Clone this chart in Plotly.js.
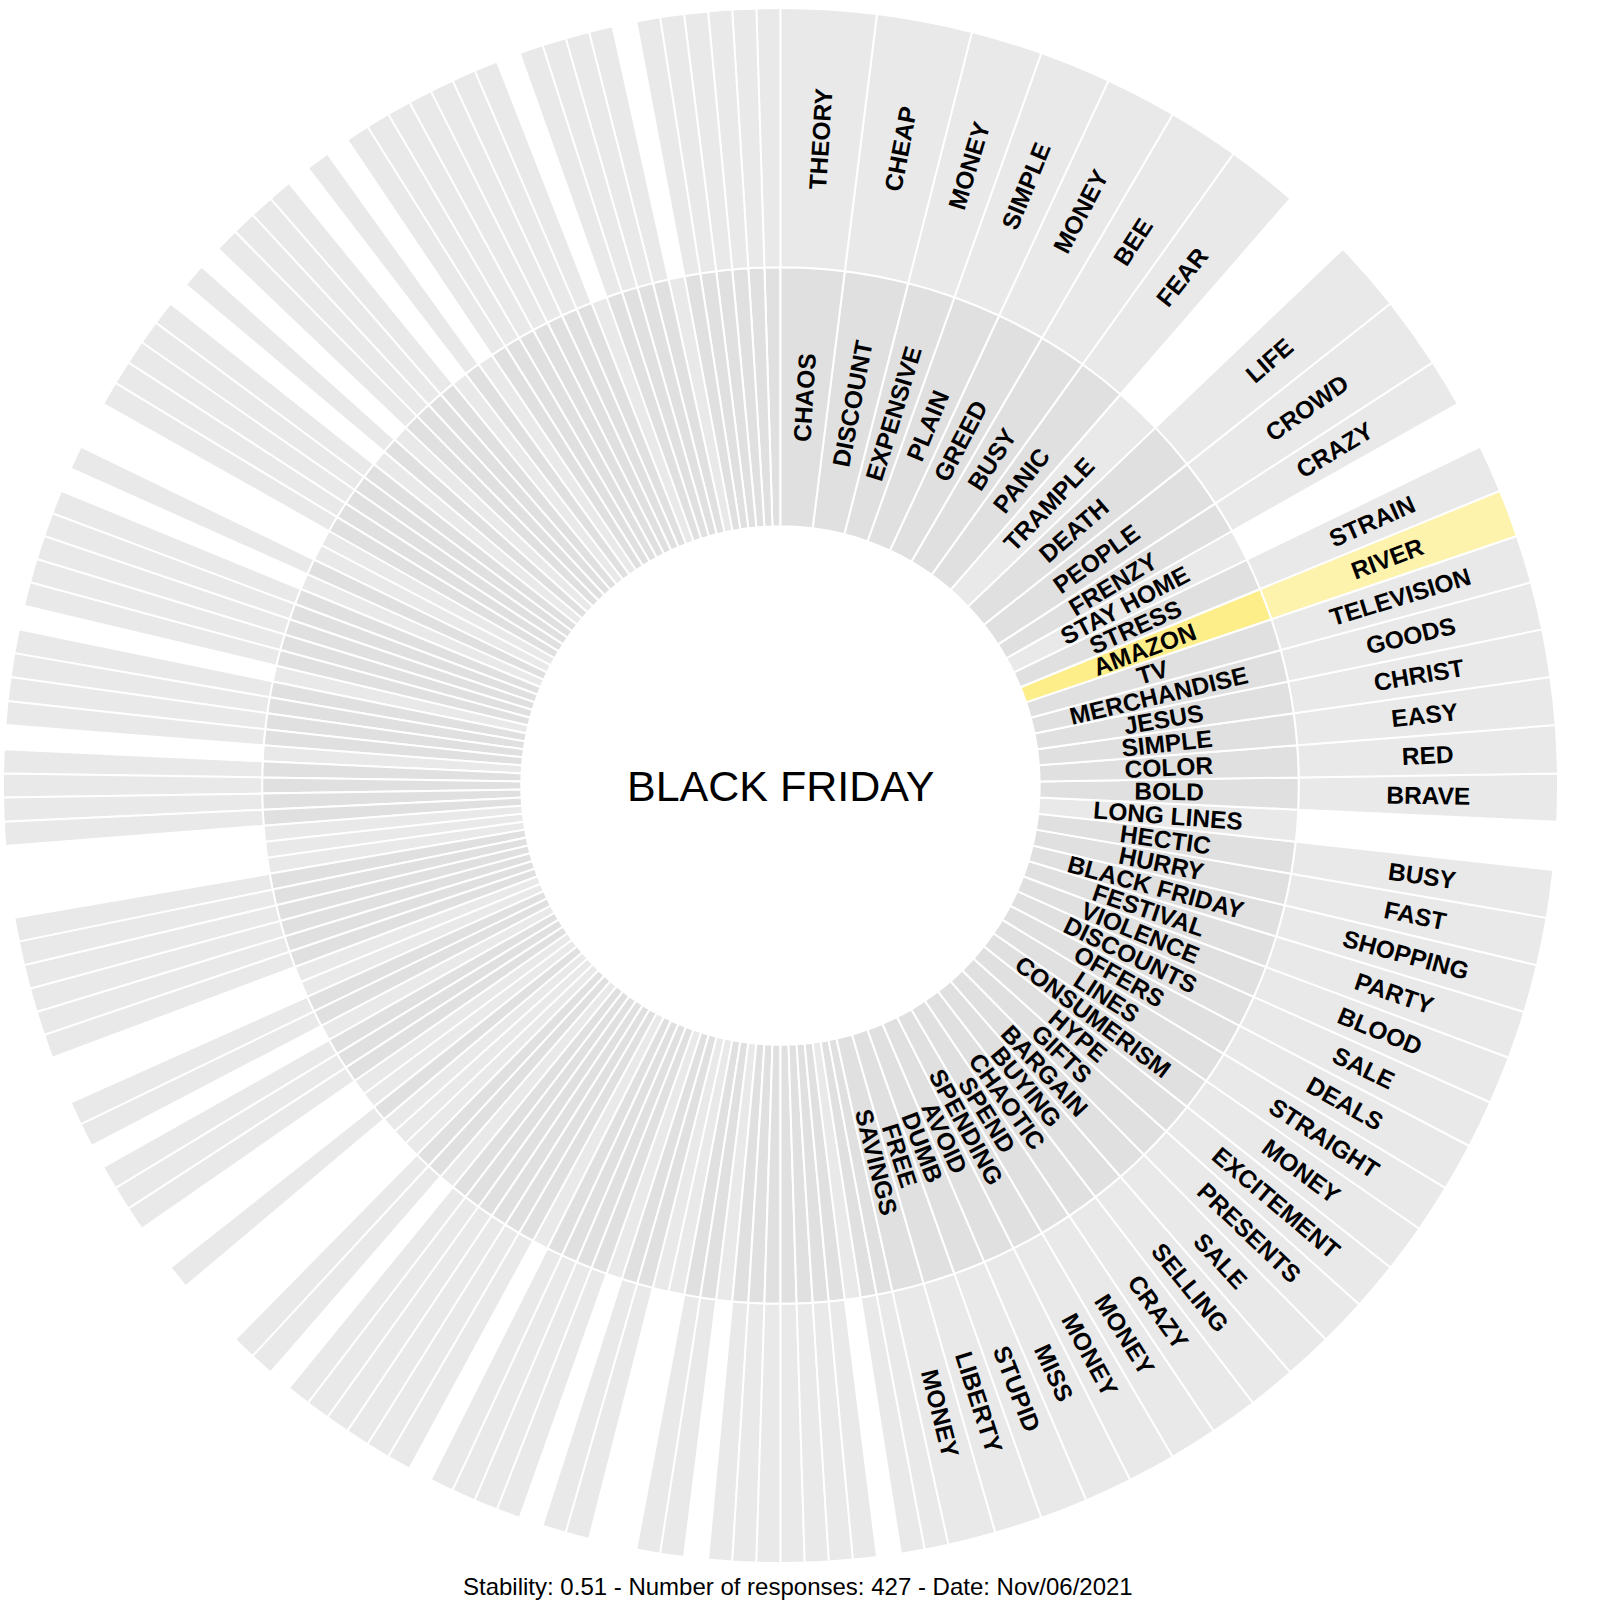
<!DOCTYPE html>
<html>
<head>
<meta charset="utf-8">
<script src="https://cdn.plot.ly/plotly-3.0.1.min.js"></script>
<style>body{margin:0;background:#fff}</style>
</head>
<body>
<div id="chart" style="width:1600px;height:1600px"></div>
<script>
// cue word in the centre
const cue = 'BLACK FRIDAY';

// first responses that are big enough to carry a label (clockwise from 12 o'clock)
const firstWords = ['CHAOS', 'DISCOUNT', 'EXPENSIVE', 'PLAIN', 'GREED', 'BUSY', 'PANIC', 'TRAMPLE', 'DEATH', 'PEOPLE',
  'FRENZY', 'STAY HOME', 'STRESS', 'AMAZON', 'TV', 'MERCHANDISE', 'JESUS', 'SIMPLE', 'COLOR', 'BOLD',
  'LONG LINES', 'HECTIC', 'HURRY', 'BLACK FRIDAY', 'FESTIVAL', 'VIOLENCE', 'DISCOUNTS', 'OFFERS', 'LINES', 'CONSUMERISM',
  'HYPE', 'GIFTS', 'BARGAIN', 'BUYING', 'CHAOTIC', 'SPEND', 'SPENDING', 'AVOID', 'DUMB', 'FREE', 'SAVINGS'];
const firstCounts = [4, 4, 3, 3, 3, 3, 3, 3, 3, 3,
  2, 2, 2, 2, 2, 2, 2, 2, 2, 2,
  2, 2, 2, 2, 2, 2, 2, 2, 2, 2,
  2, 2, 2, 2, 2, 2, 2, 2, 2, 2, 2];
// strongest association of each first response ('' = none)
const secondWords = ['THEORY', 'CHEAP', 'MONEY', 'SIMPLE', 'MONEY', 'BEE', 'FEAR', '', 'LIFE', 'CROWD',
  'CRAZY', '', 'STRAIN', 'RIVER', 'TELEVISION', 'GOODS', 'CHRIST', 'EASY', 'RED', 'BRAVE',
  '', 'BUSY', 'FAST', 'SHOPPING', 'PARTY', 'BLOOD', 'SALE', 'DEALS', 'STRAIGHT', 'MONEY',
  'EXCITEMENT', 'PRESENTS', 'SALE', 'SELLING', 'CRAZY', 'MONEY', 'MONEY', 'MISS', 'STUPID', 'LIBERTY', 'MONEY'];

// single responses without a label, continuing clockwise after SAVINGS (108)
const otherCounts = [
  1, 1, 1, 1, 1, 1, 1, 1, 1, 1,
  1, 1, 1, 1, 1, 1, 1, 1, 1, 1,
  1, 1, 1, 1, 1, 1, 1, 1, 1, 1,

  1, 1, 1, 1, 1, 1, 1, 1, 1, 1,
  1, 1, 1, 1, 1, 1, 1, 1, 1, 1,
  1, 1, 1, 1, 1, 1, 1, 1, 1,

  1, 1, 1, 1, 1, 1, 1, 1, 1, 1,
  1, 1, 1, 1, 1, 1, 1, 1, 1, 1,
  1, 1, 1, 1, 1, 1, 1, 1,

  1, 1, 1, 1, 1, 1, 1, 1, 1, 1,
  1, 1, 1, 1, 1, 1, 1, 1, 1, 1,
  1];
// 1 = that response has an association in the outer ring
const otherHasSecond = [
  1, 1, 0, 1, 1, 1, 1, 1, 1, 1,
  0, 1, 1, 0, 0, 1, 1, 0, 1, 1,
  1, 1, 0, 1, 1, 1, 1, 1, 1, 0,

  1, 1, 0, 0, 0, 1, 0, 0, 1, 1,
  1, 0, 1, 1, 0, 0, 1, 1, 1, 1,
  1, 1, 0, 0, 0, 1, 1, 1, 1,

  0, 1, 1, 1, 1, 0, 1, 1, 1, 1,
  1, 0, 1, 0, 0, 1, 1, 1, 1, 1,
  0, 1, 0, 1, 1, 1, 1, 0,

  1, 0, 1, 1, 1, 1, 1, 1, 1, 0,
  1, 1, 1, 1, 0, 1, 1, 1, 1, 1,
  1];

const highlighted = ['AMAZON', 'RIVER'];
const footnote = 'Stability: 0.51 - Number of responses: 427 - Date: Nov/06/2021';

const FONT = 'Liberation Sans, Arial, Helvetica, sans-serif';
const GREY = '#e0e0e0';
const YELLOW = '#fdee8a';
// symmetric invisible padding so plotly centres radial labels in their ring
// (inner ring needs a longer box than the thinner outer ring)
const PAD_INNER = '\u00a0'.repeat(40);
const PAD_OUTER = '\u00a0'.repeat(17);
const tag = (w, pad) => w ? pad + '<b>' + w + '</b>' + pad : '';

// one entry per first response, clockwise order
const entries = [];
firstWords.forEach((w, i) => entries.push({ w, n: firstCounts[i], s: secondWords[i] }));
otherCounts.forEach((n, i) => entries.push({ w: '', n, s: otherHasSecond[i] ? '-' : '' }));
// plotly lays sunburst sectors counter-clockwise, so feed them reversed
const ordered = entries.slice().reverse();

const total = entries.reduce((a, e) => a + e.n, 0);
const ids = ['root'], labels = [cue], parents = [''], values = [total];
const text = [''], colors = ['#ffffff'];

ordered.forEach((e, k) => {
  const id = 'r1_' + k;
  ids.push(id); labels.push(e.w || 'r1 ' + k); parents.push('root'); values.push(e.n);
  text.push(tag(e.w, PAD_INNER));
  colors.push(highlighted.includes(e.w) ? YELLOW : GREY);
  if (e.s) {
    const word = e.s === '-' ? '' : e.s;
    ids.push('r2_' + k); labels.push(word || 'r2 ' + k); parents.push(id); values.push(e.n);
    text.push(tag(word, PAD_OUTER));
    colors.push(highlighted.includes(word) ? YELLOW : GREY);
  }
});

const trace = {
  type: 'sunburst',
  ids, labels, parents, values, text,
  branchvalues: 'total',
  sort: false,
  rotation: 90,
  textinfo: 'text',
  insidetextorientation: 'radial',
  textfont: { family: FONT, size: 24.5, color: '#000000' },
  insidetextfont: { family: FONT, size: 24.5, color: '#000000' },
  marker: { colors, line: { color: '#ffffff', width: 2 } },
  leaf: { opacity: 0.7 },
  hoverinfo: 'skip'
};

const layout = {
  width: 1600,
  height: 1600,
  margin: { l: 3, r: 42, t: 8, b: 37 },
  paper_bgcolor: '#ffffff',
  showlegend: false,
  uniformtext: { mode: 'show', minsize: 24.5 },
  annotations: [{
    text: cue,
    xref: 'paper', yref: 'paper',
    x: 0.5, y: 0.5,
    xanchor: 'center', yanchor: 'middle',
    showarrow: false,
    font: { family: FONT, size: 43, color: '#000000' }
  }, {
    text: footnote,
    xref: 'paper', yref: 'paper',
    x: 0.511, y: -0.0154,
    xanchor: 'center', yanchor: 'middle',
    showarrow: false,
    font: { family: FONT, size: 24, color: '#000000' }
  }]
};

Plotly.newPlot('chart', [trace], layout, { displayModeBar: false });
</script>
</body>
</html>
